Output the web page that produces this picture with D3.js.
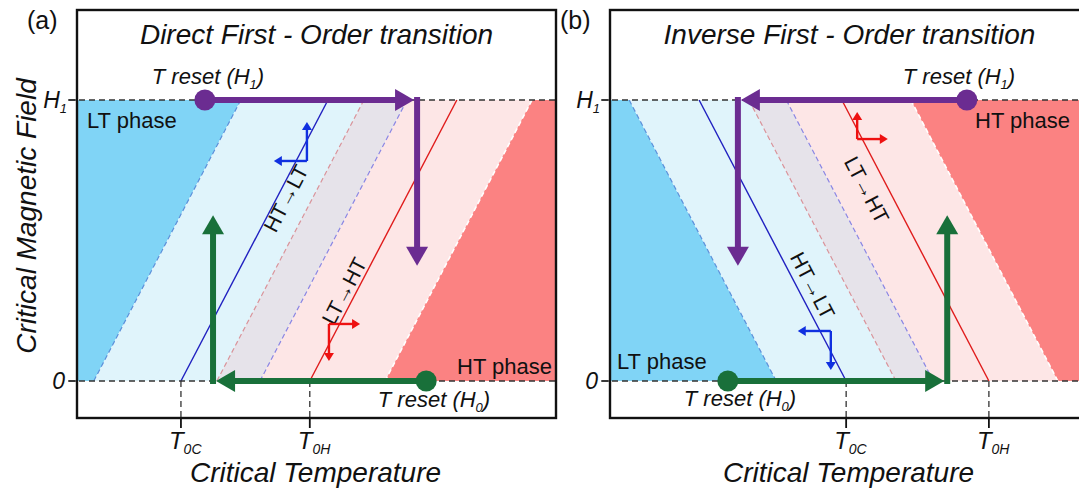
<!DOCTYPE html>
<html>
<head>
<meta charset="utf-8">
<script src="https://cdn.jsdelivr.net/npm/d3@7"></script>
<style>
  body { margin: 0; background: #fff; }
  svg { display: block; font-family: "Liberation Sans", Arial, sans-serif; }
</style>
</head>
<body>
<svg id="chart" width="1079" height="491"></svg>
<script>
// Phase boundaries, as the temperature where each line meets H = 0 (0-100 across a frame)
// order: LT edge, HT->LT, gray start, gray end, LT->HT, HT edge
const directT0 = [3.5, 21.7, 29.2, 38.2, 48.6, 64.3];
const inverseT0 = [34.7, 49.3, 59.7, 67.5, 79.1, 93.5];
// dT/dH of every boundary
const directSlope = 30.7;
const inverseSlope = -30.7;

const fieldTicks = [0, 1];            // 0 and H1
const tempTickNames = ['0C', '0H'];   // subscripts of T0C, T0H

// Reset protocols: [T, H]
const directH1Path = [[26.7, 1], [71.0, 1], [71.0, 0.41]];
const directH0Path = [[72.9, 0], [28.4, 0], [28.4, 0.59]];
const inverseH1Path = [[74.5, 1], [26.7, 1], [26.7, 0.41]];
const inverseH0Path = [[24.6, 0], [70.4, 0], [70.4, 0.59]];

// Small direction markers: corner, then the two tips
const directBlueMark = [[48.0, 0.783], [41.1, 0.783], [48.0, 0.922]];
const directRedMark = [[52.6, 0.203], [59.1, 0.203], [52.6, 0.071]];
const inverseRedMark = [[51.6, 0.861], [58.0, 0.861], [51.6, 0.957]];
const inverseBlueMark = [[46.1, 0.178], [39.2, 0.178], [46.1, 0.039]];

// Rotated transition labels: [text, T, H]
const directLabels = [['HT\u2192LT', 43.6, 0.65], ['LT\u2192HT', 55.8, 0.32]];
const inverseLabels = [['LT\u2192HT', 53.6, 0.68], ['HT\u2192LT', 42.3, 0.34]];

const svg = d3.select('#chart');

const frameW = 479;
const frameTop = 10, frameBottom = 418;
const y = d3.scaleLinear().domain([0, 1]).range([381, 100]);

const fills = ['#80d4f6', '#e0f4fb', '#e6e3ea', '#fde6e6', '#fb8282'];
const lineStyles = [
    {color: '#5b90da', dash: '5,3', w: 1.2},
    {color: '#1f1fc0', dash: null, w: 1.4},
    {color: '#d9939a', dash: '5,3', w: 1.2},
    {color: '#8a86e4', dash: '5,3', w: 1.2},
    {color: '#e01b1b', dash: null, w: 1.4},
    {color: '#ffffff', dash: '5,3', w: 1.6}
];
const purple = '#6b2c91';
const green = '#19703a';

function subText(sel, parts, subSize) {
    parts.forEach(([t, sub], i) => {
        const ts = sel.append('tspan').text(t);
        if (sub) ts.attr('font-size', subSize).attr('dy', 5);
        else if (i > 0 && parts[i - 1][1]) ts.attr('dy', -5);
    });
    return sel;
}

function arrow(g, x1, y1, x2, y2, color, w, headW, headL) {
    const a = Math.atan2(y2 - y1, x2 - x1);
    const c = Math.cos(a), s = Math.sin(a);
    const bx = x2 - headL * c, by = y2 - headL * s;
    g.append('line')
        .attr('x1', x1).attr('y1', y1).attr('x2', bx + c).attr('y2', by + s)
        .attr('stroke', color).attr('stroke-width', w);
    g.append('path')
        .attr('d', `M${x2},${y2}L${bx - s * headW / 2},${by + c * headW / 2}L${bx + s * headW / 2},${by - c * headW / 2}Z`)
        .attr('fill', color);
}

function drawPanel(p) {
    const x = d3.scaleLinear().domain([0, 100]).range([p.left, p.left + frameW]);
    const g = svg.append('g');
    const bound = (i, h) => p.t0[i] + p.slope * h;

    // colored bands between H = 0 and H1
    const edges = [
        h => 0,
        h => bound(0, h),
        h => bound(2, h),
        h => bound(3, h),
        h => bound(5, h),
        h => 100
    ];
    fills.forEach((f, i) => {
        const pts = [[edges[i](0), 0], [edges[i + 1](0), 0], [edges[i + 1](1), 1], [edges[i](1), 1]];
        g.append('path')
            .attr('d', d3.line().x(d => x(d[0])).y(d => y(d[1]))(pts) + 'Z')
            .attr('fill', f);
    });

    // boundary lines
    p.t0.forEach((t, i) => {
        const st = lineStyles[i];
        g.append('line')
            .attr('x1', x(bound(i, 0))).attr('y1', y(0))
            .attr('x2', x(bound(i, 1))).attr('y2', y(1))
            .attr('stroke', st.color).attr('stroke-width', st.w)
            .attr('stroke-dasharray', st.dash);
    });

    // dashed field levels, with ticks
    fieldTicks.forEach(h => {
        g.append('line')
            .attr('x1', p.left - 8).attr('x2', p.left + frameW)
            .attr('y1', y(h)).attr('y2', y(h))
            .attr('stroke', '#333').attr('stroke-width', 1.3)
            .attr('stroke-dasharray', '6,4');
        g.append('line')
            .attr('x1', p.left - 9).attr('x2', p.left)
            .attr('y1', y(h)).attr('y2', y(h))
            .attr('stroke', '#222').attr('stroke-width', 1.3);
    });

    // temperature ticks T0C, T0H
    [1, 4].forEach((bi, k) => {
        const tx = x(p.t0[bi]);
        g.append('line')
            .attr('x1', tx).attr('x2', tx).attr('y1', y(0)).attr('y2', frameBottom)
            .attr('stroke', '#333').attr('stroke-width', 1.3).attr('stroke-dasharray', '6,4');
        g.append('line')
            .attr('x1', tx).attr('x2', tx).attr('y1', frameBottom).attr('y2', frameBottom + 10)
            .attr('stroke', '#111').attr('stroke-width', 1.8);
        subText(g.append('text')
            .attr('x', tx - 12).attr('y', 449)
            .attr('font-size', 24).attr('font-style', 'italic').attr('fill', '#111'),
            [['T', false], [tempTickNames[k], true]], 14);
    });

    // frame
    g.append('rect')
        .attr('x', p.left).attr('y', frameTop)
        .attr('width', frameW).attr('height', frameBottom - frameTop)
        .attr('fill', 'none').attr('stroke', '#111').attr('stroke-width', 2.4);

    // field labels
    subText(g.append('text')
        .attr('x', p.left - 10).attr('y', y(1) + 8).attr('text-anchor', 'end')
        .attr('font-size', 23).attr('font-style', 'italic').attr('fill', '#111'),
        [['H', false], ['1', true]], 13);
    g.append('text')
        .attr('x', p.left - 12).attr('y', y(0) + 8).attr('text-anchor', 'end')
        .attr('font-size', 23).attr('font-style', 'italic').attr('fill', '#111')
        .text('0');

    // transition labels, aligned with the boundaries
    let ang = Math.atan2(y(1) - y(0), x(bound(1, 1)) - x(bound(1, 0))) * 180 / Math.PI;
    if (ang < -90) ang += 180;
    p.labels.forEach(([t, tt, h]) => {
        g.append('text')
            .attr('transform', `translate(${x(tt)},${y(h)}) rotate(${ang})`)
            .attr('text-anchor', 'middle').attr('dy', '0.35em')
            .attr('font-size', 21).attr('fill', '#111')
            .text(t);
    });

    // small direction markers
    p.marks.forEach(([m, col]) => {
        const [c, t1, t2] = m;
        arrow(g, x(c[0]), y(c[1]), x(t1[0]), y(t1[1]), col, 2.4, 10, 8);
        arrow(g, x(c[0]), y(c[1]), x(t2[0]), y(t2[1]), col, 2.4, 10, 8);
    });

    // reset protocol arrows
    p.paths.forEach(([path, col]) => {
        const [a, b, c] = path;
        const dirX = Math.sign(x(b[0]) - x(a[0]));
        const dirY = Math.sign(y(c[1]) - y(b[1]));
        arrow(g, x(a[0]), y(a[1]), x(b[0]) - dirX * 3, y(b[1]), col, 6, 22, 19);
        arrow(g, x(b[0]), y(b[1]) - dirY * 3, x(c[0]), y(c[1]), col, 6, 22, 19);
        g.append('circle').attr('cx', x(a[0])).attr('cy', y(a[1])).attr('r', 10.5).attr('fill', col);
    });

    // phase and reset labels
    p.texts.forEach(([parts, tx, ty, anchor, italic]) => {
        subText(g.append('text')
            .attr('x', tx).attr('y', ty).attr('text-anchor', anchor)
            .attr('font-size', 22).attr('font-style', italic ? 'italic' : 'normal')
            .attr('fill', '#111'), parts, 13);
    });

    // titles
    g.append('text')
        .attr('x', p.left + frameW / 2).attr('y', 44).attr('text-anchor', 'middle')
        .attr('font-size', 28).attr('font-style', 'italic').attr('fill', '#111')
        .text(p.title);
    g.append('text')
        .attr('x', p.left + frameW / 2 - 1).attr('y', 482).attr('text-anchor', 'middle')
        .attr('font-size', 28).attr('font-style', 'italic').attr('fill', '#111')
        .text('Critical Temperature');
    g.append('text')
        .attr('x', p.left - 50).attr('y', 29)
        .attr('font-size', 25).attr('fill', '#111')
        .text(p.tag);
}

drawPanel({
    left: 77, t0: directT0, slope: directSlope, tag: '(a)',
    title: 'Direct First - Order transition',
    labels: directLabels,
    marks: [[directBlueMark, '#1030e0'], [directRedMark, '#ee1111']],
    paths: [[directH1Path, purple], [directH0Path, green]],
    texts: [
        [[['T reset (H', false], ['1', true], [')', false]], 208, 84, 'middle', true],
        [[['LT phase', false]], 87, 128, 'start', false],
        [[['HT phase', false]], 552, 374, 'end', false],
        [[['T reset (H', false], ['0', true], [')', false]], 434, 407, 'middle', true]
    ]
});

drawPanel({
    left: 610, t0: inverseT0, slope: inverseSlope, tag: '(b)',
    title: 'Inverse First - Order transition',
    labels: inverseLabels,
    marks: [[inverseRedMark, '#ee1111'], [inverseBlueMark, '#1030e0']],
    paths: [[inverseH1Path, purple], [inverseH0Path, green]],
    texts: [
        [[['T reset (H', false], ['1', true], [')', false]], 959, 84, 'middle', true],
        [[['HT phase', false]], 975, 128, 'start', false],
        [[['LT phase', false]], 617, 369, 'start', false],
        [[['T reset (H', false], ['0', true], [')', false]], 740, 406, 'middle', true]
    ]
});

// y-axis title (panel a only)
svg.append('text')
    .attr('transform', 'translate(36,216) rotate(-90)')
    .attr('text-anchor', 'middle')
    .attr('font-size', 28).attr('font-style', 'italic')
    .attr('fill', '#111')
    .text('Critical Magnetic Field');
</script>
</body>
</html>
